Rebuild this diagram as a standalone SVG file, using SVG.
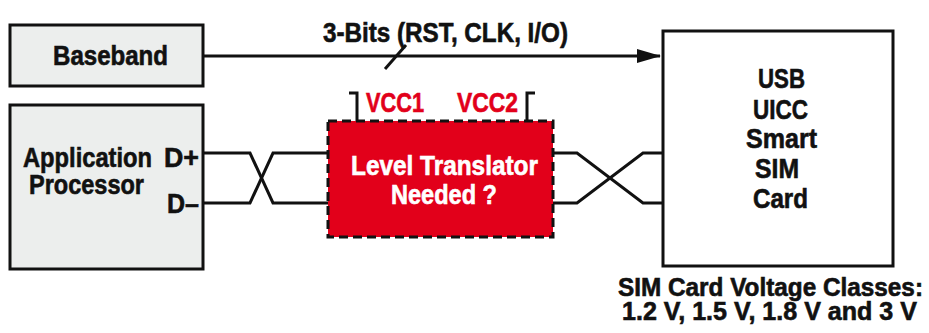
<svg xmlns="http://www.w3.org/2000/svg" width="929" height="333" viewBox="0 0 929 333">
<style>
text{font-family:"Liberation Sans Narrow","Liberation Sans",Arial,sans-serif;font-weight:bold;font-size:27px;fill:#111;stroke:#111;stroke-width:0.6}
.box{fill:#eceeed;stroke:#111;stroke-width:3}
.wire{fill:none;stroke:#111;stroke-width:3;stroke-linejoin:miter}
.red{fill:#e2001a}
text.red{stroke:#e2001a}
text.w{fill:#fff;stroke:#fff}
.small{font-size:25px}
</style>
<defs>
<marker id="arr" markerWidth="24" markerHeight="14" refX="23" refY="7" orient="auto" markerUnits="userSpaceOnUse">
<path d="M0,0 L24,7 L0,14 Z" fill="#111"/>
</marker>
</defs>
<rect width="929" height="333" fill="#fff"/>
<g id="connectors">
<line class="wire" x1="203" y1="56" x2="660" y2="56" marker-end="url(#arr)"/>
<line class="wire" x1="385" y1="69" x2="406" y2="45"/>
<path class="wire" d="M203,153 H250 L273,203 H328"/>
<path class="wire" d="M203,203 H250 L273,153 H328"/>
<path class="wire" d="M553,153 H577 L643,203 H663"/>
<path class="wire" d="M553,203 H577 L643,153 H663"/>
<path class="wire" d="M349,93 H357 V121"/>
<path class="wire" d="M535,93 H527 V121"/>
<text x="323" y="42" textLength="245" lengthAdjust="spacingAndGlyphs">3-Bits (RST, CLK, I/O)</text>
</g>
<g id="baseband">
<rect class="box" x="10" y="25" width="193" height="61"/>
<text x="53" y="65" textLength="115" lengthAdjust="spacingAndGlyphs">Baseband</text>
</g>
<g id="app-processor">
<rect class="box" x="10" y="105" width="193" height="164"/>
<text x="23" y="167" textLength="129" lengthAdjust="spacingAndGlyphs">Application</text>
<text x="29" y="194" textLength="115" lengthAdjust="spacingAndGlyphs">Processor</text>
<text x="164" y="167" textLength="35" lengthAdjust="spacingAndGlyphs">D+</text>
<text x="167" y="213" textLength="32" lengthAdjust="spacingAndGlyphs">D–</text>
</g>
<g id="level-translator">
<rect class="red" x="328" y="121" width="225" height="116" stroke="#111" stroke-width="3" stroke-dasharray="9,5"/>
<text class="w" x="351" y="175" textLength="187" lengthAdjust="spacingAndGlyphs">Level Translator</text>
<text class="w" x="391" y="204" textLength="106" lengthAdjust="spacingAndGlyphs">Needed ?</text>
<text class="red" x="366" y="112" textLength="58" lengthAdjust="spacingAndGlyphs">VCC1</text>
<text class="red" x="457" y="112" textLength="61" lengthAdjust="spacingAndGlyphs">VCC2</text>
</g>
<g id="sim-card">
<rect x="663" y="31" width="230" height="235" fill="#fff" stroke="#111" stroke-width="3"/>
<text x="758" y="88" textLength="47" lengthAdjust="spacingAndGlyphs">USB</text>
<text x="753" y="119" textLength="55" lengthAdjust="spacingAndGlyphs">UICC</text>
<text x="746" y="148" textLength="71" lengthAdjust="spacingAndGlyphs">Smart</text>
<text x="755" y="178" textLength="44" lengthAdjust="spacingAndGlyphs">SIM</text>
<text x="753" y="208" textLength="55" lengthAdjust="spacingAndGlyphs">Card</text>
</g>
<g id="voltage-label">
<text class="small" x="618" y="296" textLength="305" lengthAdjust="spacingAndGlyphs">SIM Card Voltage Classes:</text>
<text class="small" x="622" y="320" textLength="295" lengthAdjust="spacingAndGlyphs">1.2 V, 1.5 V, 1.8 V and 3 V</text>
</g>
</svg>
